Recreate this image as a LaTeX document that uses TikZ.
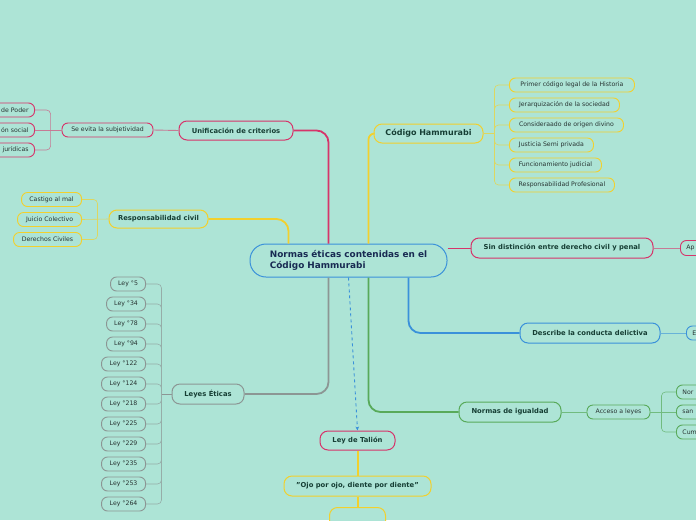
\documentclass[tikz,border=0pt]{standalone}
\usepackage{fontspec}
\setmainfont{DejaVu Sans}
\usetikzlibrary{arrows.meta}
\definecolor{bg}{RGB}{173,228,214}
\definecolor{pinkc}{RGB}{214,52,106}
\definecolor{yelc}{RGB}{242,208,45}
\definecolor{bluec}{RGB}{58,145,218}
\definecolor{greenc}{RGB}{88,170,90}
\definecolor{greyc}{RGB}{140,150,148}
\definecolor{toptxt}{RGB}{22,62,52}
\definecolor{ctxt}{RGB}{24,42,82}
\definecolor{chtxt}{RGB}{40,52,50}
\begin{document}
\begin{tikzpicture}[x=1pt,y=-1pt,
  box/.style={draw, rounded corners=6pt, line width=0.9pt, fill=bg, inner sep=0pt,
    minimum height=14pt, text=chtxt, font=\fontsize{6.2}{7}\selectfont},
  topic/.style={box, rounded corners=8pt, line width=1pt, minimum height=19pt,
    text=toptxt, font=\fontsize{6.8}{8}\selectfont\bfseries},
  cutl/.style={box, anchor=east, text width=60pt, align=right, inner xsep=6pt},
  cutr/.style={box, anchor=west, text width=60pt, align=left, inner xsep=6pt},
  mainline/.style={line width=1.8pt, rounded corners=12pt},
  subline/.style={line width=0.6pt},
]
\useasboundingbox (0,0) rectangle (696,520);
\fill[bg] (0,0) rectangle (696,520);
\clip (0,0) rectangle (696,520);

% central
\node[draw=bluec, line width=1pt, fill=bg, rounded corners=16pt, minimum width=197pt,
  minimum height=33pt, align=left, text=ctxt, font=\fontsize{8.9}{10.5}\selectfont\bfseries]
  (c) at (348.5,260.5) {Normas éticas contenidas en el\\Código Hammurabi};

% topics
\node[topic, draw=pinkc, minimum width=114pt] (unif) at (236,130.5) {Unificación de criterios};
\node[topic, draw=yelc, minimum width=99pt, minimum height=18pt] (resp) at (158.5,219) {Responsabilidad civil};
\node[topic, draw=yelc, minimum width=109pt, font=\fontsize{8}{9}\selectfont\bfseries] (cod) at (428.5,133.5) {Código Hammurabi};
\node[topic, draw=pinkc, minimum width=182pt, minimum height=20pt] (sin) at (562,248) {Sin distinción entre derecho civil y penal};
\node[topic, draw=bluec, minimum width=140pt, minimum height=20pt] (desc) at (590,333) {Describe la conducta delictiva};
\node[topic, draw=greenc, minimum width=102pt, minimum height=20pt] (norm) at (510,412) {Normas de igualdad};
\node[topic, draw=greyc, minimum width=72pt, minimum height=20pt] (leyes) at (208,394) {Leyes Éticas};
\node[topic, draw=pinkc, minimum width=75pt] (tal) at (357.5,440.5) {Ley de Talión};
\node[topic, draw=yelc, minimum width=147pt, minimum height=20pt] (ojo) at (357.5,486) {"Ojo por ojo, diente por diente"};
\node[topic, draw=yelc, minimum width=56pt, minimum height=26pt, anchor=north] (emp) at (357.5,507) {};

% main connectors
\draw[pinkc, mainline] (unif.east) -| ([xshift=-20pt]c.north);
\draw[yelc, mainline] (resp.east) -| ([xshift=-60pt]c.north);
\draw[yelc, mainline, rounded corners=6pt] ([xshift=20pt]c.north) |- (cod.west);
\draw[pinkc, line width=0.9pt] (sin.west -| c.east) -- (sin.west);
\draw[bluec, mainline] ([xshift=60pt]c.south) |- (desc.west);
\draw[greenc, mainline] ([xshift=20pt]c.south) |- (norm.west);
\draw[greyc, mainline] ([xshift=-20pt]c.south) |- (leyes.east);
\draw[bluec, dashed, line width=0.9pt, -{Stealth[length=4pt,width=3.5pt]}] (c.south) -- (tal.north);
\draw[yelc, line width=2pt] (tal.south) -- (ojo.north);
\draw[yelc, line width=2pt] (ojo.south) -- (emp.north);

% Unificación branch
\node[box, draw=pinkc, minimum width=91pt] (se) at (107.5,130) {Se evita la subjetividad};
\draw[pinkc!60!bg, line width=0.9pt] (unif.west) -- (se.east);
\node[cutl, draw=pinkc] (p1) at (35,110) {de Poder};
\node[cutl, draw=pinkc] (p2) at (35,130) {ón social};
\node[cutl, draw=pinkc] (p3) at (35,150) {jurídicas};
\draw[pinkc!60!bg, subline] (se.west) -- (p2.east);
\draw[pinkc!60!bg, subline, rounded corners=4pt] ([xshift=-11pt]se.west) |- (p1.east);
\draw[pinkc!60!bg, subline, rounded corners=4pt] ([xshift=-11pt]se.west) |- (p3.east);

% Responsabilidad branch
\node[box, draw=yelc, anchor=east, minimum width=60pt] (r1) at (82,199.5) {Castigo al mal};
\node[box, draw=yelc, anchor=east, minimum width=64pt] (r2) at (82,219.5) {Juicio Colectivo};
\node[box, draw=yelc, anchor=east, minimum width=68pt] (r3) at (82,239.5) {Derechos Civiles};
\draw[yelc!70!bg, subline] (resp.west) -- (r2.east);
\draw[yelc!70!bg, subline, rounded corners=4pt] ([xshift=-11pt]resp.west) |- (r1.east);
\draw[yelc!70!bg, subline, rounded corners=4pt] ([xshift=-11pt]resp.west) |- (r3.east);

% Código branch
\node[box, draw=yelc, anchor=west, minimum width=125pt] (h1) at (509,85) {Primer código legal de la Historia};
\node[box, draw=yelc, anchor=west, minimum width=110pt] (h2) at (509,105) {Jerarquización de la sociedad};
\node[box, draw=yelc, anchor=west, minimum width=114pt] (h3) at (509,125) {Consideraado de origen divino};
\node[box, draw=yelc, anchor=west, minimum width=84pt] (h4) at (509,145) {Justicia Semi privada};
\node[box, draw=yelc, anchor=west, minimum width=92pt] (h5) at (509,165) {Funcionamiento judicial};
\node[box, draw=yelc, anchor=west, minimum width=105pt] (h6) at (509,185) {Responsabilidad Profesional};
\draw[yelc!70!bg, subline] (cod.east) -- ++(11,0);
\foreach \n in {h1,h2,h3,h4,h5,h6}
  \draw[yelc!70!bg, subline, rounded corners=4pt] ([xshift=11pt]cod.east) |- (\n.west);

% Sin distinción / Describe cut-off
\node[cutr, draw=pinkc, minimum height=15pt] (ap) at (680,248) {Ap};
\draw[pinkc!60!bg, line width=0.9pt] (sin.east) -- (ap.west);
\node[cutr, draw=bluec] (e1) at (686,333) {E};
\draw[bluec!60!bg, line width=0.9pt] (desc.east) -- (e1.west);

% Normas de igualdad branch
\node[box, draw=greenc, minimum width=63pt] (acc) at (618.5,412) {Acceso a leyes};
\draw[greenc!70!bg, line width=0.9pt] (norm.east) -- (acc.west);
\node[cutr, draw=greenc] (g1) at (676,392) {Nor};
\node[cutr, draw=greenc] (g2) at (676,412) {san};
\node[cutr, draw=greenc] (g3) at (676,432) {Cum};
\draw[greenc!70!bg, subline] (acc.east) -- (g2.west);
\draw[greenc!70!bg, subline, rounded corners=4pt] ([xshift=11pt]acc.east) |- (g1.west);
\draw[greenc!70!bg, subline, rounded corners=4pt] ([xshift=11pt]acc.east) |- (g3.west);

% Leyes Éticas branch
\node[box, draw=greyc, anchor=east, minimum width=35pt] (l1) at (146,284) {Ley °5};
\node[box, draw=greyc, anchor=east, minimum width=39pt] (l2) at (146,304) {Ley °34};
\node[box, draw=greyc, anchor=east, minimum width=39pt] (l3) at (146,324) {Ley °78};
\node[box, draw=greyc, anchor=east, minimum width=39pt] (l4) at (146,344) {Ley °94};
\node[box, draw=greyc, anchor=east, minimum width=44pt] (l5) at (146,364) {Ley °122};
\node[box, draw=greyc, anchor=east, minimum width=44pt] (l6) at (146,384) {Ley °124};
\node[box, draw=greyc, anchor=east, minimum width=44pt] (l7) at (146,404) {Ley °218};
\node[box, draw=greyc, anchor=east, minimum width=44pt] (l8) at (146,424) {Ley °225};
\node[box, draw=greyc, anchor=east, minimum width=44pt] (l9) at (146,444) {Ley °229};
\node[box, draw=greyc, anchor=east, minimum width=44pt] (l10) at (146,464) {Ley °235};
\node[box, draw=greyc, anchor=east, minimum width=44pt] (l11) at (146,484) {Ley °253};
\node[box, draw=greyc, anchor=east, minimum width=44pt] (l12) at (146,504) {Ley °264};
\draw[greyc, line width=0.9pt] (leyes.west) -- ++(-10,0);
\foreach \n in {l1,l2,l3,l4,l5,l6,l7,l8,l9,l10,l11,l12}
  \draw[greyc!70!bg, subline, rounded corners=4pt] ([xshift=-10pt]leyes.west) |- (\n.east);
\end{tikzpicture}
\end{document}
